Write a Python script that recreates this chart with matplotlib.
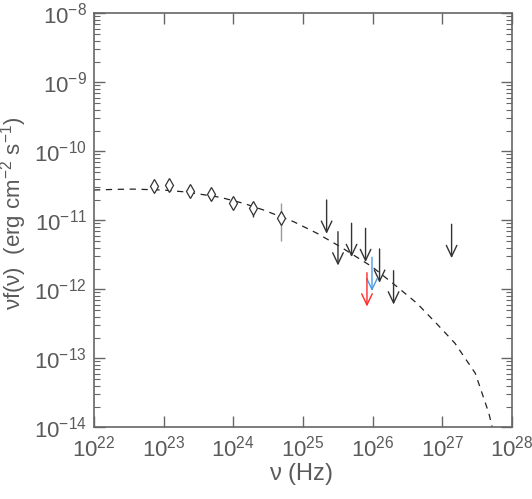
import matplotlib
matplotlib.use("Agg")
import matplotlib.pyplot as plt
import numpy as np

# ---- data ----
det_logx = [22.866, 23.081, 23.382, 23.679, 23.995, 24.282, 24.688]
det_y = [3.14e-11, 3.25e-11, 2.69e-11, 2.40e-11, 1.76e-11, 1.49e-11, 1.09e-11]
det_lo = [2.85e-11, 2.90e-11, 2.40e-11, 2.08e-11, 1.50e-11, 1.13e-11, 5.0e-12]
det_hi = [3.45e-11, 3.60e-11, 3.00e-11, 2.75e-11, 2.05e-11, 1.86e-11, 1.76e-11]
det_bar_colors = ["#333333"] * 6 + ["#999999"]

ul_logx = [25.339, 25.502, 25.697, 25.898, 26.099, 26.300, 27.133]
ul_y = [1.97e-11, 6.84e-12, 9.06e-12, 7.66e-12, 3.84e-12, 1.86e-12, 8.75e-12]

blue_logx = [25.990]
blue_y = [2.91e-12]
red_logx = [25.918]
red_y = [1.74e-12]

model_logx = [22.0, 22.3, 22.568, 23.0, 23.325, 23.813, 24.147, 24.434, 24.865,
              25.201, 25.535, 25.990, 26.349, 26.636, 26.923, 27.182, 27.473,
              27.668, 27.717]
model_logy = [-10.561, -10.552, -10.548, -10.562, -10.590, -10.667, -10.754,
              -10.851, -11.020, -11.188, -11.383, -11.672, -11.962, -12.203,
              -12.503, -12.783, -13.217, -13.797, -14.006]

xlim = (1e22, 1e28)
ylim = (1e-14, 1e-8)

# ---- style ----
fam = "Liberation Sans"
plt.rcParams["font.family"] = [fam, "DejaVu Sans"]
plt.rcParams["mathtext.fontset"] = "custom"
plt.rcParams["mathtext.rm"] = fam
plt.rcParams["mathtext.it"] = fam + ":italic"
plt.rcParams["mathtext.default"] = "rm"

txt = "#5a5a5a"
ax_col = "#666666"

fig = plt.figure(figsize=(5.32, 4.99), dpi=100)
ax = fig.add_axes([94 / 532, 1 - 427.3 / 499, 418 / 532, 414 / 499])
ax.set_xscale("log")
ax.set_yscale("log")
ax.set_xlim(*xlim)
ax.set_ylim(*ylim)

# model curve
ax.plot(10 ** np.array(model_logx), 10 ** np.array(model_logy),
        color="#222222", lw=0.9, linestyle=(0, (5, 4.5)), zorder=2)

# detections
dx = 10 ** np.array(det_logx)
ax.vlines(dx, det_lo, det_hi, colors=det_bar_colors, lw=1.0, zorder=3)
ax.plot(dx, det_y, linestyle="none", marker="d", ms=7, mfc="white",
        mec="#333333", mew=0.9, zorder=4)

def arrows(logxs, ys, color):
    for lx, yv in zip(logxs, ys):
        x = 10 ** lx
        ax.annotate("", xy=(x, yv * 10 ** -0.49), xytext=(x, yv),
                    arrowprops=dict(arrowstyle="->,head_length=0.8,head_width=0.38",
                                    color=color, lw=1.0, shrinkA=0, shrinkB=0,
                                    mutation_scale=10),
                    zorder=5)

arrows(ul_logx, ul_y, "#333333")
arrows(blue_logx, blue_y, "#4a9be8")
arrows(red_logx, red_y, "#ff2a2a")

# ticks
ax.tick_params(which="both", direction="in", top=True, right=True,
               color=ax_col, labelcolor=txt)
ax.tick_params(which="major", length=8, width=1.0, labelsize=16)
ax.tick_params(axis="x", which="major", pad=6)
ax.tick_params(axis="y", which="major", pad=5)
ax.tick_params(which="minor", length=4.5, width=0.8)
ax.set_xticks([10.0 ** k for k in range(22, 29)])
ax.set_xticklabels([r"$10^{%d}$" % k for k in range(22, 29)])
ax.set_yticks([10.0 ** k for k in range(-14, -7)])
ax.set_yticklabels([r"$10^{%d}$" % k for k in range(-14, -7)])
ax.xaxis.set_minor_locator(matplotlib.ticker.LogLocator(base=10, subs=np.arange(2, 10)))
ax.yaxis.set_minor_locator(matplotlib.ticker.LogLocator(base=10, subs=np.arange(2, 10)))
ax.xaxis.set_minor_formatter(matplotlib.ticker.NullFormatter())
ax.yaxis.set_minor_formatter(matplotlib.ticker.NullFormatter())
for s in ax.spines.values():
    s.set_color(ax_col)
    s.set_linewidth(1.2)

ax.set_xlabel(r"$\nu$ (Hz)", fontsize=17, color=txt)
ax.xaxis.set_label_coords((301 - 94) / 418, -(474 - 427.3) / 414)
ax.xaxis.label.set_va("center")
ax.set_ylabel(r"$\nu$f($\nu$)  (erg cm$^{-2}$ s$^{-1}$)", fontsize=16, color=txt)
ax.yaxis.set_label_coords(-(94 - 14) / 418, (427.3 - 213) / 414)
ax.yaxis.label.set_va("center")

fig.savefig("out.png", dpi=100)
